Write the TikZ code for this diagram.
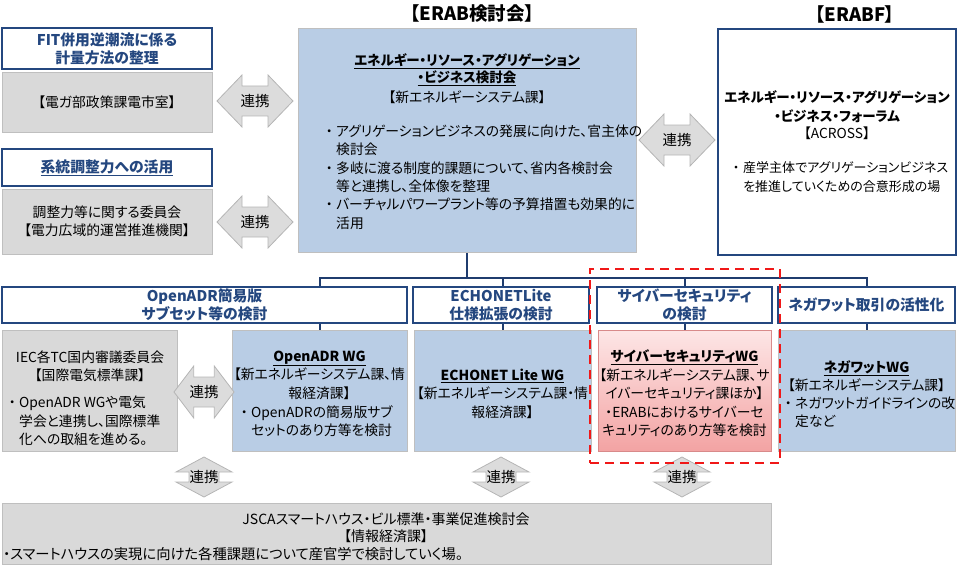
\documentclass[tikz,border=0pt]{standalone}
\usepackage{fontspec}
\setmainfont{Noto Sans CJK JP}[RawFeature={+palt}]
\usetikzlibrary{backgrounds}
\definecolor{dblue}{HTML}{24477F}
\definecolor{tblue}{HTML}{1F3C6E}
\definecolor{lblue}{HTML}{B9CDE5}
\definecolor{lgray}{HTML}{D9D9D9}
\definecolor{bgray}{HTML}{BFBFBF}
\definecolor{pinkT}{HTML}{FDE6E6}
\definecolor{pinkB}{HTML}{F3A3A3}
\definecolor{pinkD}{HTML}{D88A8A}
\definecolor{lnkfill}{HTML}{DCDCDC}
\definecolor{lnkdraw}{HTML}{B5B5B5}
\definecolor{dashred}{HTML}{F01818}
\newcommand\mybul{\makebox[14pt][c]{・}}
\newcommand\myind{\hspace*{14pt}}
\tikzset{
 box/.style={rectangle, anchor=north west, inner sep=0, outer sep=0},
 hdrbox/.style={box, draw=dblue, line width=1.1pt, fill=white},
 graybox/.style={box, draw=bgray, line width=0.9pt, fill=lgray},
 bluebox/.style={box, draw=bgray, line width=0.9pt, fill=lblue},
 pinkbox/.style={box, draw=pinkD, line width=0.9pt, top color=pinkT, bottom color=pinkB},
 tx/.style={inner sep=0, align=center, font=\fontsize{13.8}{18.4}\selectfont},
 txl/.style={tx, align=left, anchor=west},
 hdtx/.style={inner sep=0, align=center, text=dblue, font=\bfseries\fontsize{14.8}{18}\selectfont},
 ttl/.style={inner sep=0, font=\bfseries\fontsize{18.5}{21}\selectfont},
 tree/.style={draw=tblue, line width=2pt, line cap=rect},
 lnkshape/.style={fill=lnkfill, draw=lnkdraw, line width=0.8pt, line join=miter},
 lnktx/.style={inner sep=0, font=\fontsize{14.5}{16}\selectfont},
 hlink/.pic={\path[lnkshape] (-38,0) -- (-13,-26) -- (-13,-15) -- (13,-15) -- (13,-26) -- (38,0) -- (13,26) -- (13,15) -- (-13,15) -- (-13,26) -- cycle; \node[lnktx] (-t) at (0,0) {連携};},
 vlink/.pic={\path[lnkshape] (0,-20) -- (28,-5) -- (15,-5) -- (15,5) -- (28,5) -- (0,20) -- (-28,5) -- (-15,5) -- (-15,-5) -- (-28,-5) -- cycle; \node[lnktx] (-t) at (0,0) {連携};},
}
\begin{document}
\begin{tikzpicture}[x=1pt,y=-1pt]
\useasboundingbox (0,0) rectangle (960,567);
% titles
\node[ttl] (ttlA) at (472,14) {【ERAB検討会】};
\node[ttl] (ttlB) at (855,14) {【ERABF】};
% left column
\node[hdrbox, minimum width=210pt, minimum height=41pt] (fit) at (2,28) {};
\node[hdtx] (fitT) at (fit.center) {FIT併用逆潮流に係る\\計量方法の整理};
\node[graybox, minimum width=210pt, minimum height=60pt] (gA) at (2,72) {};
\node[tx] (gAT) at (gA.center) {【電ガ部政策課電市室】};
\node[hdrbox, minimum width=210pt, minimum height=37pt] (kei) at (2,149) {};
\node[hdtx] (keiT) at (kei.center) {\underline{系統調整力への活用}};
\node[graybox, minimum width=210pt, minimum height=65pt] (gB) at (2,189) {};
\node[tx] (gBT) at (gB.center) {調整力等に関する委員会\\【電力広域的運営推進機関】};
\pic (lkA) at (255,101) {hlink};
\pic (lkB) at (255,222) {hlink};
% center box
\node[bluebox, minimum width=338pt, minimum height=224pt] (erab) at (298,28) {};
\node[tx, font=\bfseries\fontsize{13.5}{17}\selectfont] (erabT) at (467,70) {\underline{エネルギー・リソース・アグリゲーション}\\\underline{・ビジネス検討会}};
\node[tx] (erabS) at (467,97) {【新エネルギーシステム課】};
\node[txl] (erabL) at (322,177) {\mybul アグリゲーションビジネスの発展に向けた、官主体の\\\myind 検討会\\\mybul 多岐に渡る制度的課題について、省内各検討会\\\myind 等と連携し、全体像を整理\\\mybul バーチャルパワープラント等の予算措置も効果的に\\\myind 活用};
\pic (lkC) at (677,140) {hlink};
% right box
\node[box, draw=dblue, line width=2.5pt, fill=white, minimum width=238pt, minimum height=226pt] (erabf) at (718,29) {};
\node[tx, font=\bfseries\fontsize{13.5}{19}\selectfont] (erabfT) at (837,106.5) {エネルギー・リソース・アグリゲーション\\・ビジネス・フォーラム};
\node[tx] (erabfS) at (837,133) {【ACROSS】};
\node[txl, font=\fontsize{13}{18.4}\selectfont] (erabfL) at (729,177) {\mybul 産学主体でアグリゲーションビジネス\\\myind を推進していくための合意形成の場};
% header row
\node[hdrbox, minimum width=405pt, minimum height=36pt] (hA) at (2,287) {};
\node[hdtx] (hAT) at (hA.center) {OpenADR簡易版\\サブセット等の検討};
\node[hdrbox, minimum width=176pt, minimum height=36pt] (hB) at (413,287) {};
\node[hdtx] (hBT) at (hB.center) {ECHONETLite\\仕様拡張の検討};
\node[hdrbox, minimum width=175pt, minimum height=36pt] (hC) at (597,287) {};
\node[hdtx] (hCT) at (hC.center) {サイバーセキュリティ\\の検討};
\node[hdrbox, minimum width=177pt, minimum height=36pt] (hD) at (778,287) {};
\node[hdtx] (hDT) at (hD.center) {ネガワット取引の活性化};
% WG row
\node[graybox, minimum width=175pt, minimum height=121pt] (iec) at (2,330) {};
\node[tx] (iecT) at (90,366) {IEC各TC国内審議委員会\\【国際電気標準課】};
\node[txl] (iecL) at (5,421) {\mybul OpenADR WGや電気\\\myind 学会と連携し、国際標準\\\myind 化への取組を進める。};
\node[bluebox, minimum width=175pt, minimum height=121pt] (wgA) at (232,330) {};
\pic[xscale=0.79] (lkD) at (204,392) {hlink};
\node[tx] (wgAT) at (319.5,375) {\underline{\textbf{OpenADR WG}}\\【新エネルギーシステム課、情\\報経済課】};
\node[txl] (wgAL) at (237,421) {\mybul OpenADRの簡易版サブ\\\myind セットのあり方等を検討};
\node[bluebox, minimum width=177pt, minimum height=121pt] (wgB) at (414,330) {};
\node[tx] (wgBT) at (502.5,393.5) {\underline{\textbf{ECHONET Lite WG}}\\【新エネルギーシステム課・情\\報経済課】};
\node[pinkbox, minimum width=173pt, minimum height=121pt] (wgC) at (598,330) {};
\node[tx] (wgCT) at (684.5,375) {\underline{\textbf{サイバーセキュリティWG}}\\【新エネルギーシステム課、サ\\イバーセキュリティ課ほか】};
\node[tx] (wgCL) at (684.5,421.5) {・ERABにおけるサイバーセ\\キュリティのあり方等を検討};
\node[bluebox, minimum width=177pt, minimum height=121pt] (wgD) at (778,330) {};
\node[tx] (wgDT) at (866.5,376) {\underline{\textbf{ネガワットWG}}\\【新エネルギーシステム課】};
\node[txl] (wgDL) at (781,412) {\mybul ネガワットガイドラインの改\\\myind 定など};
% bottom links
\pic (lkE) at (204,477) {vlink};
\pic (lkF) at (501,477) {vlink};
\pic (lkG) at (682,477) {vlink};
% red dashed frame
\node[box, draw=dashred, line width=2.5pt, dash pattern=on 9pt off 6pt, minimum width=190pt, minimum height=194pt] (cyb) at (590,269) {};
% bottom box
\node[graybox, minimum width=769pt, minimum height=61pt] (jsca) at (2,503) {};
\node[tx, font=\fontsize{14}{17}\selectfont] (jscaT) at (386,527.5) {JSCAスマートハウス・ビル標準・事業促進検討会\\【情報経済課】};
\node[txl, font=\fontsize{14.3}{17}\selectfont] (jscaL) at (3,554) {・スマートハウスの実現に向けた各種課題について産官学で検討していく場。};
% tree
\coordinate (busy) at (0,278);
\begin{scope}[on background layer]
\draw[tree] (erab.south) -- (erab.south |- busy);
\draw[tree] (wgA.north |- busy) -- (wgD.north |- busy);
\draw[tree] (wgA.north |- busy) -- (wgA.north);
\draw[tree] (wgB.north |- busy) -- (wgB.north);
\draw[tree] (wgC.north |- busy) -- (wgC.north);
\draw[tree] (wgD.north |- busy) -- (wgD.north);
\end{scope}
\end{tikzpicture}
\end{document}
